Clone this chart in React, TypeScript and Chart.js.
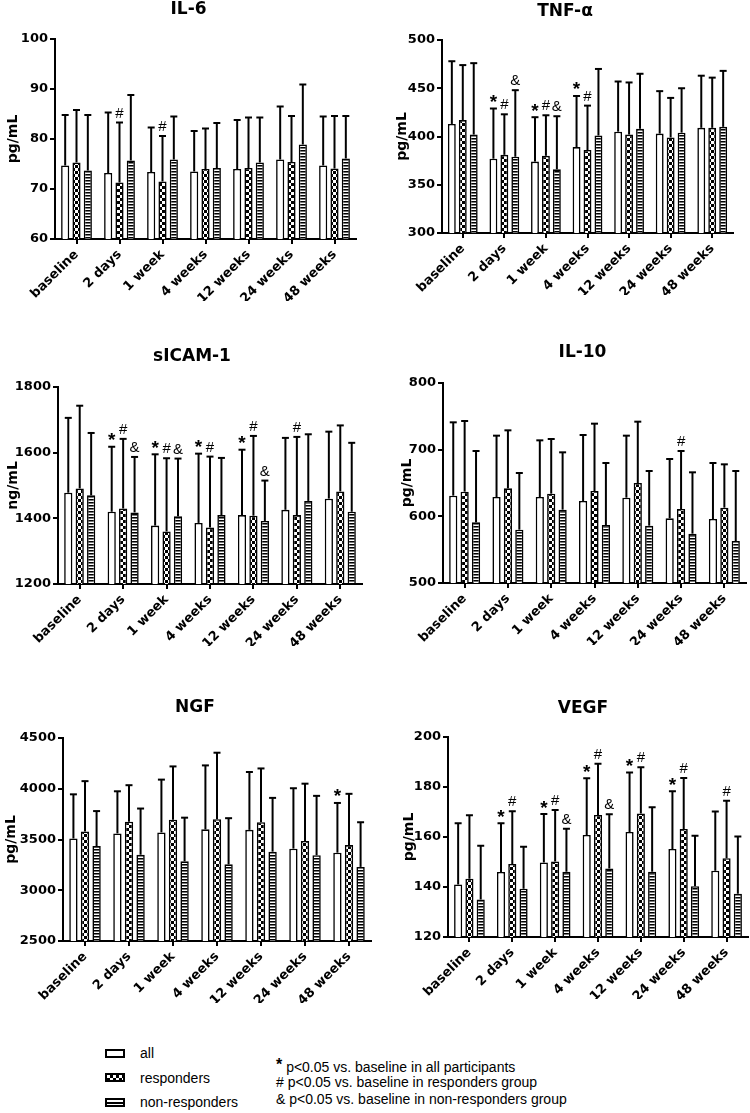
import React, { useEffect, useRef } from "react";
import { Chart, registerables } from "chart.js";

Chart.register(...registerables);

const categories = ["baseline", "2 days", "1 week", "4 weeks", "12 weeks", "24 weeks", "48 weeks"];
const seriesNames = ["all", "responders", "non-responders"];

// IL-6 (pg/mL): bar means and upper error-bar ends
const il6All = [74.7, 73.2, 73.4, 73.5, 74.0, 75.9, 74.7];
const il6Resp = [75.3, 71.3, 71.5, 74.0, 74.2, 75.4, 74.1];
const il6Non = [73.7, 75.7, 75.9, 74.2, 75.3, 78.9, 76.1];
const il6AllErr = [84.8, 85.3, 82.3, 81.6, 83.8, 86.5, 84.5];
const il6RespErr = [85.8, 83.3, 80.6, 82.1, 84.3, 84.6, 84.6];
const il6NonErr = [84.8, 88.8, 84.5, 83.2, 84.3, 90.9, 84.6];
const il6Marks: [number, number, string][] = [[1, 1, "#"], [2, 1, "#"]];

// TNF-α (pg/mL)
const tnfAll = [413, 377, 374, 389, 405, 403, 409];
const tnfResp = [417, 381, 380, 386, 402, 399, 409];
const tnfNon = [402, 379, 366, 401, 408, 404, 410];
const tnfAllErr = [478, 429, 420, 442, 457, 447, 463];
const tnfRespErr = [474, 423, 422, 432, 456, 440, 461];
const tnfNonErr = [476, 448, 421, 470, 465, 450, 468];
const tnfMarks: [number, number, string][] = [
  [1, 0, "*"], [1, 1, "#"], [1, 2, "&"],
  [2, 0, "*"], [2, 1, "#"], [2, 2, "&"],
  [3, 0, "*"], [3, 1, "#"],
];

// sICAM-1 (ng/mL)
const icamAll = [1478, 1420, 1378, 1386, 1410, 1426, 1460];
const icamResp = [1491, 1430, 1360, 1372, 1408, 1410, 1482];
const icamNon = [1470, 1418, 1406, 1410, 1392, 1453, 1420];
const icamAllErr = [1706, 1618, 1595, 1597, 1609, 1645, 1664];
const icamRespErr = [1743, 1642, 1583, 1588, 1651, 1648, 1683];
const icamNonErr = [1660, 1587, 1582, 1584, 1515, 1656, 1630];
const icamMarks: [number, number, string][] = [
  [1, 0, "*"], [1, 1, "#"], [1, 2, "&"],
  [2, 0, "*"], [2, 1, "#"], [2, 2, "&"],
  [3, 0, "*"], [3, 1, "#"],
  [4, 0, "*"], [4, 1, "#"], [4, 2, "&"],
  [5, 1, "#"],
];

// IL-10 (pg/mL)
const il10All = [631, 629, 629, 623, 628, 597, 596];
const il10Resp = [637, 642, 634, 638, 650, 611, 613];
const il10Non = [591, 580, 610, 587, 586, 574, 563];
const il10AllErr = [741, 721, 714, 722, 721, 686, 680];
const il10RespErr = [743, 729, 716, 739, 742, 698, 678];
const il10NonErr = [698, 665, 696, 680, 668, 666, 668];
const il10Marks: [number, number, string][] = [[5, 1, "#"]];

// NGF (pg/mL)
const ngfAll = [3510, 3560, 3570, 3600, 3595, 3410, 3370];
const ngfResp = [3580, 3675, 3695, 3700, 3670, 3485, 3445];
const ngfNon = [3435, 3350, 3285, 3255, 3380, 3345, 3230];
const ngfAllErr = [3945, 3975, 4090, 4230, 4165, 4005, 3860];
const ngfRespErr = [4075, 4035, 4220, 4355, 4200, 4050, 3950];
const ngfNonErr = [3780, 3805, 3715, 3710, 3910, 3930, 3670];
const ngfMarks: [number, number, string][] = [[6, 0, "*"]];

// VEGF (pg/mL)
const vegfAll = [141.0, 146.0, 149.8, 160.8, 162.0, 155.2, 146.5];
const vegfResp = [143.3, 149.2, 150.2, 168.8, 169.4, 163.2, 151.5];
const vegfNon = [135.0, 139.3, 146.1, 147.4, 146.1, 140.3, 137.3];
const vegfAllErr = [165.5, 165.5, 169.2, 183.5, 185.8, 178.3, 170.2];
const vegfRespErr = [168.7, 170.3, 170.8, 189.3, 187.9, 183.6, 174.5];
const vegfNonErr = [156.5, 156.1, 163.3, 169.1, 171.9, 160.5, 160.2];
const vegfMarks: [number, number, string][] = [
  [1, 0, "*"], [1, 1, "#"],
  [2, 0, "*"], [2, 1, "#"], [2, 2, "&"],
  [3, 0, "*"], [3, 1, "#"], [3, 2, "&"],
  [4, 0, "*"], [4, 1, "#"],
  [5, 0, "*"], [5, 1, "#"],
  [6, 1, "#"],
];

const BOLD_FAMILY = "'DejaVu Sans', 'Liberation Sans', Arial, sans-serif";
const REG_FAMILY = "'Liberation Sans', Arial, sans-serif";

type PanelCfg = {
  title: string;
  yTitle: string;
  min: number;
  max: number;
  step: number;
  values: number[][];
  errs: number[][];
  marks: [number, number, string][];
  box: { left: number; top: number; width: number; height: number };
  area: { l: number; r: number; t: number; b: number };
  titlePos: [number, number];
  yTitleX: number;
};

const X_AXIS_H = 62;
const Y_TITLE_SIZE = 14;

function makePatterns() {
  const checker = document.createElement("canvas");
  checker.width = 6;
  checker.height = 6;
  const c1 = checker.getContext("2d")!;
  c1.fillStyle = "#fff";
  c1.fillRect(0, 0, 6, 6);
  c1.fillStyle = "#000";
  c1.fillRect(0, 0, 3, 3);
  c1.fillRect(3, 3, 3, 3);

  const stripes = document.createElement("canvas");
  stripes.width = 6;
  stripes.height = 3;
  const c2 = stripes.getContext("2d")!;
  c2.fillStyle = "#fff";
  c2.fillRect(0, 0, 6, 3);
  c2.fillStyle = "#000";
  c2.fillRect(0, 0, 6, 1);
  c2.fillStyle = "#777";
  c2.fillRect(0, 1, 6, 1);

  const tmp = document.createElement("canvas").getContext("2d")!;
  return [
    "#ffffff",
    tmp.createPattern(checker, "repeat")!,
    tmp.createPattern(stripes, "repeat")!,
  ];
}

function Panel({ cfg }: { cfg: PanelCfg }) {
  const ref = useRef<HTMLCanvasElement | null>(null);
  useEffect(() => {
    const canvas = ref.current!;
    const fills = makePatterns();
    const padL = cfg.yTitleX - (Y_TITLE_SIZE * 1.2) / 2;
    const yW = cfg.area.l - padL;

    const overlay = {
      id: "overlay",
      afterDatasetsDraw(chart: any) {
        const ctx = chart.ctx as CanvasRenderingContext2D;
        const ys = chart.scales.y;
        ctx.save();
        ctx.strokeStyle = "#000";
        ctx.lineWidth = 2;
        const tops: number[][] = [];
        cfg.errs.forEach((errArr, di) => {
          const meta = chart.getDatasetMeta(di);
          tops[di] = [];
          meta.data.forEach((el: any, j: number) => {
            const x = el.x;
            const y0 = el.y;
            const y1 = ys.getPixelForValue(errArr[j]);
            tops[di][j] = y1;
            ctx.beginPath();
            ctx.moveTo(x, y0);
            ctx.lineTo(x, y1);
            ctx.stroke();
            ctx.beginPath();
            ctx.moveTo(x - 3.5, y1);
            ctx.lineTo(x + 3.5, y1);
            ctx.stroke();
          });
        });
        ctx.fillStyle = "#000";
        ctx.textAlign = "center";
        ctx.textBaseline = "alphabetic";
        cfg.marks.forEach(([ci, di, sym]) => {
          const el = chart.getDatasetMeta(di).data[ci];
          ctx.font = sym === "*" ? `bold 19px ${REG_FAMILY}` : `15px ${REG_FAMILY}`;
          const m = ctx.measureText(sym);
          const asc = m.actualBoundingBoxAscent;
          const desc = m.actualBoundingBoxDescent;
          const cy = tops[di][ci] - 10;
          ctx.fillText(sym, el.x, cy + (asc - desc) / 2);
        });
        ctx.font = `bold 17px ${BOLD_FAMILY}`;
        ctx.textBaseline = "middle";
        ctx.fillText(cfg.title, cfg.titlePos[0], cfg.titlePos[1]);
        ctx.restore();
      },
    };

    const tickFont = { family: BOLD_FAMILY, size: 13, weight: "bold" as const };
    const chart = new Chart(canvas, {
      type: "bar",
      data: {
        labels: categories,
        datasets: cfg.values.map((vals, i) => ({
          label: seriesNames[i],
          data: vals,
          backgroundColor: fills[i] as any,
          borderColor: "#000",
          borderWidth: 1.6,
          categoryPercentage: 0.79,
          barPercentage: 0.72,
        })),
      },
      options: {
        responsive: false,
        maintainAspectRatio: false,
        animation: false,
        devicePixelRatio: 1,
        events: [],
        layout: {
          padding: {
            left: padL,
            right: cfg.box.width - cfg.area.r,
            top: cfg.area.t,
            bottom: cfg.box.height - cfg.area.b - X_AXIS_H,
          },
        },
        plugins: {
          legend: { display: false },
          title: { display: false },
          tooltip: { enabled: false },
        },
        scales: {
          x: {
            offset: true,
            grid: {
              display: true,
              drawOnChartArea: false,
              drawTicks: true,
              tickLength: 5,
              offset: false,
              color: "#000",
              lineWidth: 2,
            },
            border: { display: true, color: "#000", width: 2 },
            ticks: {
              maxRotation: 45,
              minRotation: 45,
              autoSkip: false,
              color: "#000",
              font: tickFont,
              padding: 3,
            },
            afterFit: (s: any) => {
              s.height = X_AXIS_H;
            },
          },
          y: {
            min: cfg.min,
            max: cfg.max,
            grid: {
              display: true,
              drawOnChartArea: false,
              drawTicks: true,
              tickLength: 5,
              color: "#000",
              lineWidth: 2,
            },
            border: { display: true, color: "#000", width: 2 },
            ticks: {
              stepSize: cfg.step,
              color: "#000",
              font: tickFont,
              padding: 2,
              callback: (v: any) => String(v),
            },
            title: {
              display: true,
              text: cfg.yTitle,
              color: "#000",
              font: { family: BOLD_FAMILY, size: Y_TITLE_SIZE, weight: "bold" },
              padding: 0,
            },
            afterFit: (s: any) => {
              s.width = yW;
            },
          },
        },
      },
      plugins: [overlay],
    });
    return () => chart.destroy();
  }, [cfg]);

  return (
    <canvas
      ref={ref}
      width={cfg.box.width}
      height={cfg.box.height}
      style={{
        position: "absolute",
        left: cfg.box.left,
        top: cfg.box.top,
        width: cfg.box.width,
        height: cfg.box.height,
      }}
    />
  );
}

const panels: PanelCfg[] = [
  {
    title: "IL-6", yTitle: "pg/mL", min: 60, max: 100, step: 10,
    values: [il6All, il6Resp, il6Non], errs: [il6AllErr, il6RespErr, il6NonErr], marks: il6Marks,
    box: { left: 0, top: 0, width: 375, height: 325 },
    area: { l: 55, r: 356, t: 39, b: 239 },
    titlePos: [188.5, 10], yTitleX: 13,
  },
  {
    title: "TNF-α", yTitle: "pg/mL", min: 300, max: 500, step: 50,
    values: [tnfAll, tnfResp, tnfNon], errs: [tnfAllErr, tnfRespErr, tnfNonErr], marks: tnfMarks,
    box: { left: 375, top: 0, width: 375, height: 325 },
    area: { l: 67, r: 358, t: 40, b: 233 },
    titlePos: [190, 12], yTitleX: 27,
  },
  {
    title: "sICAM-1", yTitle: "ng/mL", min: 1200, max: 1800, step: 200,
    values: [icamAll, icamResp, icamNon], errs: [icamAllErr, icamRespErr, icamNonErr], marks: icamMarks,
    box: { left: 0, top: 325, width: 375, height: 360 },
    area: { l: 58, r: 362, t: 62, b: 259 },
    titlePos: [192, 32], yTitleX: 13,
  },
  {
    title: "IL-10", yTitle: "pg/mL", min: 500, max: 800, step: 100,
    values: [il10All, il10Resp, il10Non], errs: [il10AllErr, il10RespErr, il10NonErr], marks: il10Marks,
    box: { left: 375, top: 325, width: 375, height: 360 },
    area: { l: 68, r: 371, t: 58, b: 258 },
    titlePos: [207.5, 27.5], yTitleX: 32,
  },
  {
    title: "NGF", yTitle: "pg/mL", min: 2500, max: 4500, step: 500,
    values: [ngfAll, ngfResp, ngfNon], errs: [ngfAllErr, ngfRespErr, ngfNonErr], marks: ngfMarks,
    box: { left: 0, top: 690, width: 375, height: 340 },
    area: { l: 63, r: 371, t: 48, b: 251 },
    titlePos: [195, 18], yTitleX: 11,
  },
  {
    title: "VEGF", yTitle: "pg/mL", min: 120, max: 200, step: 20,
    values: [vegfAll, vegfResp, vegfNon], errs: [vegfAllErr, vegfRespErr, vegfNonErr], marks: vegfMarks,
    box: { left: 375, top: 690, width: 375, height: 340 },
    area: { l: 73, r: 373, t: 47, b: 247 },
    titlePos: [208, 19], yTitleX: 34,
  },
];

const legendSwatches: React.CSSProperties[] = [
  { background: "#fff" },
  {
    backgroundColor: "#fff",
    backgroundImage: "repeating-conic-gradient(#000 0 25%, #fff 0 50%)",
    backgroundSize: "6px 6px",
  },
  { background: "linear-gradient(#fff 0 30%, #000 30% 70%, #fff 70% 100%)" },
];
const legendRowsY = [1053, 1077.5, 1102];
const noteSymbols = ["*", "#", "&"];
const noteTexts = [
  "p<0.05 vs. baseline in all participants",
  "p<0.05 vs. baseline in responders group",
  "p<0.05 vs. baseline in non-responders group",
];
const noteRowsY = [1064.5, 1082, 1099];

export default function App() {
  useEffect(() => {
    document.body.style.margin = "0";
  }, []);
  return (
    <div
      style={{
        position: "absolute",
        left: 0,
        top: 0,
        width: 750,
        height: 1113,
        background: "#fff",
        overflow: "hidden",
        fontFamily: REG_FAMILY,
      }}
    >
      {panels.map((p, i) => (
        <Panel key={i} cfg={p} />
      ))}
      {seriesNames.map((name, i) => (
        <React.Fragment key={name}>
          <div
            style={{
              position: "absolute",
              left: 105,
              top: legendRowsY[i] - 4.5,
              width: 20,
              height: 9,
              boxSizing: "border-box",
              border: "2px solid #000",
              ...legendSwatches[i],
            }}
          />
          <div
            style={{
              position: "absolute",
              left: 140,
              top: legendRowsY[i] - 9,
              height: 18,
              lineHeight: "18px",
              fontSize: 14,
              color: "#000",
              whiteSpace: "nowrap",
            }}
          >
            {name}
          </div>
        </React.Fragment>
      ))}
      {noteTexts.map((t, i) => (
        <div
          key={t}
          style={{
            position: "absolute",
            left: 276,
            top: noteRowsY[i] - 9,
            height: 18,
            lineHeight: "18px",
            fontSize: 14,
            color: "#000",
            whiteSpace: "nowrap",
          }}
        >
          <span style={i === 0 ? { fontSize: 16, fontWeight: "bold", verticalAlign: "2px" } : undefined}>
            {noteSymbols[i]}
          </span>{" "}
          {t}
        </div>
      ))}
    </div>
  );
}
